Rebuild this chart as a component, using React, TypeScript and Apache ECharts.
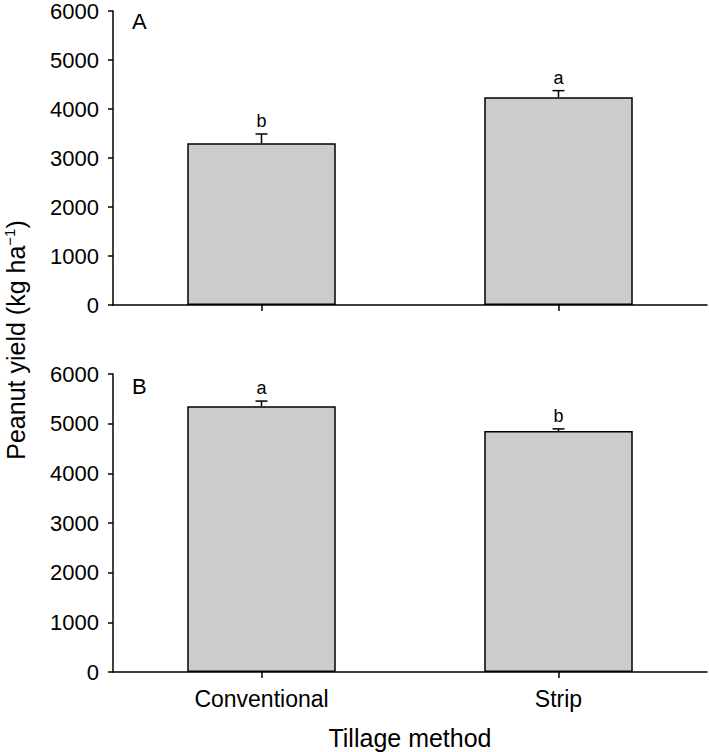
import React, { useEffect, useRef } from "react";
import * as echarts from "echarts";

const categories = ["Conventional", "Strip"];
const yieldA = [3300, 4240];
const errA = [190, 135];
const lettersA = ["b", "a"];
const yieldB = [5350, 4850];
const errB = [105, 45];
const lettersB = ["a", "b"];
const yMin = 0;
const yMax = 6000;
const yInterval = 1000;

const FONT = "'Liberation Sans', Arial, sans-serif";

function errorSeries(gridIdx: number, values: number[], errs: number[], letters: string[]) {
  return {
    type: "custom",
    xAxisIndex: gridIdx,
    yAxisIndex: gridIdx,
    z: 5,
    data: values.map((v, i) => [i, v, errs[i]]),
    renderItem: (params: any, api: any) => {
      const x = api.value(0);
      const v = api.value(1);
      const e = api.value(2);
      const p0 = api.coord([x, v]);
      const p1 = api.coord([x, v + e]);
      const letter = letters[params.dataIndex];
      return {
        type: "group",
        children: [
          {
            type: "line",
            shape: { x1: p0[0], y1: p0[1], x2: p1[0], y2: p1[1] },
            style: { stroke: "#000", lineWidth: 1.5 },
          },
          {
            type: "line",
            shape: { x1: p1[0] - 6, y1: p1[1], x2: p1[0] + 6, y2: p1[1] },
            style: { stroke: "#000", lineWidth: 1.5 },
          },
          {
            type: "text",
            x: p1[0],
            y: p1[1] - 4,
            style: {
              text: letter,
              fontSize: 18,
              fontFamily: FONT,
              fill: "#000",
              textAlign: "center",
              textVerticalAlign: "bottom",
            },
          },
        ],
      };
    },
  };
}

export default function App() {
  const ref = useRef<HTMLDivElement>(null);
  useEffect(() => {
    if (!ref.current) return;
    const chart = echarts.init(ref.current, null, { renderer: "svg" });
    const axisLine = { show: true, lineStyle: { color: "#000", width: 1.5 } };
    const yAxisCommon = {
      type: "value",
      min: yMin,
      max: yMax,
      interval: yInterval,
      axisLine,
      axisTick: { show: true, inside: false, length: 5, lineStyle: { color: "#000", width: 1.5 } },
      axisLabel: {
        color: "#000",
        fontSize: 22,
        fontFamily: FONT,
        margin: 14,
        formatter: (v: number) => String(v),
      },
      splitLine: { show: false },
    };
    const xAxisCommon = {
      type: "category",
      data: categories,
      axisLine,
      axisTick: { show: true, alignWithLabel: true, inside: false, length: 6, lineStyle: { color: "#000", width: 1.5 } },
      splitLine: { show: false },
    };
    chart.setOption({
      animation: false,
      backgroundColor: "#fff",
      grid: [
        { left: 113, top: 10, width: 594, height: 295 },
        { left: 113, top: 374, width: 594, height: 298 },
      ],
      xAxis: [
        { ...xAxisCommon, gridIndex: 0, axisLabel: { show: false } },
        {
          ...xAxisCommon,
          gridIndex: 1,
          axisLabel: { show: true, color: "#000", fontSize: 23, fontFamily: FONT, margin: 15 },
        },
      ],
      yAxis: [
        { ...yAxisCommon, gridIndex: 0 },
        { ...yAxisCommon, gridIndex: 1 },
      ],
      series: [
        {
          type: "bar",
          xAxisIndex: 0,
          yAxisIndex: 0,
          data: yieldA,
          barWidth: "50%",
          itemStyle: { color: "#cccccc", borderColor: "#000", borderWidth: 1.5 },
        },
        {
          type: "bar",
          xAxisIndex: 1,
          yAxisIndex: 1,
          data: yieldB,
          barWidth: "50%",
          itemStyle: { color: "#cccccc", borderColor: "#000", borderWidth: 1.5 },
        },
        errorSeries(0, yieldA, errA, lettersA),
        errorSeries(1, yieldB, errB, lettersB),
      ],
      graphic: [
        {
          type: "text",
          x: 132,
          y: 21,
          style: { text: "A", fontSize: 22, fontFamily: FONT, fill: "#000", textVerticalAlign: "middle" },
        },
        {
          type: "text",
          x: 132,
          y: 386,
          style: { text: "B", fontSize: 22, fontFamily: FONT, fill: "#000", textVerticalAlign: "middle" },
        },
        {
          type: "text",
          x: 16,
          y: 340,
          rotation: Math.PI / 2,
          style: {
            text: "{n|Peanut yield (kg ha}{s|−1}{n|)}",
            textAlign: "center",
            textVerticalAlign: "middle",
            fill: "#000",
            rich: {
              n: { fontSize: 25, fontFamily: FONT, fill: "#000", lineHeight: 28 },
              s: { fontSize: 15, fontFamily: FONT, fill: "#000", verticalAlign: "top", lineHeight: 28 },
            },
          },
        },
        {
          type: "text",
          x: 410,
          y: 738,
          style: {
            text: "Tillage method",
            fontSize: 25,
            fontFamily: FONT,
            fill: "#000",
            textAlign: "center",
            textVerticalAlign: "middle",
          },
        },
      ],
    });
    return () => chart.dispose();
  }, []);
  return (
    <div
      ref={ref}
      style={{ position: "fixed", left: 0, top: 0, width: 709, height: 752, background: "#fff" }}
    />
  );
}
